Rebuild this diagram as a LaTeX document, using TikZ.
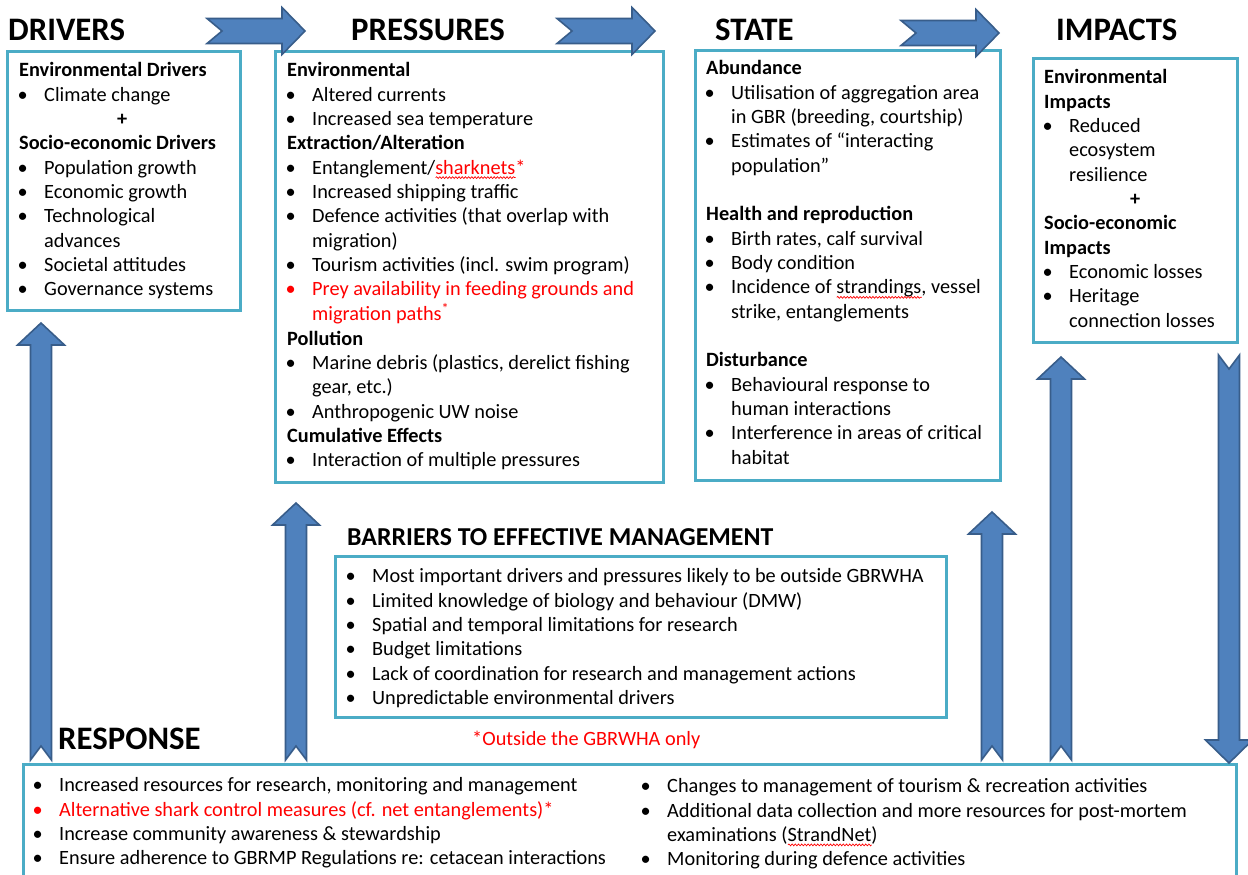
\documentclass[tikz,border=0pt]{standalone}
\usepackage{fontspec}
\setmainfont{Carlito}
\usetikzlibrary{decorations.pathmorphing}
\definecolor{boxteal}{RGB}{75,172,198}
\definecolor{arrowfill}{RGB}{79,129,189}
\definecolor{arrowline}{RGB}{56,93,138}
\definecolor{txtred}{RGB}{255,0,0}
\newlength\wavelen
\newcommand\redwave[1]{\settowidth\wavelen{#1}\makebox[\wavelen][l]{\rlap{#1}\raisebox{-3.5pt}{\tikz[x=1pt,y=1pt,baseline=0pt]{\draw[txtred,line width=0.7pt,decorate,decoration={snake,amplitude=0.9pt,segment length=3.2pt}] (0,0) -- (\wavelen,0);}}}}
\newcommand\bi{\makebox[25pt][l]{\hspace{-1.5pt}\textbullet}}
\newcommand\ri{\makebox[25pt][l]{\hspace{-1.5pt}\textcolor{txtred}{\textbullet}}}
\newcommand\ci{\hspace*{25pt}}
\newcommand\harrow[3]{\draw[blockarrow] (#1,#3-12.5) -- (#2-23,#3-12.5) -- (#2-23,#3-23.5) -- (#2,#3) -- (#2-23,#3+23.5) -- (#2-23,#3+12.5) -- (#1,#3+12.5) -- (#1+15,#3) -- cycle;}
\newcommand\uarrow[3]{\draw[blockarrow] (#1-10.5,#3) -- (#1-10.5,#2+22) -- (#1-23.5,#2+22) -- (#1,#2) -- (#1+23.5,#2+22) -- (#1+10.5,#2+22) -- (#1+10.5,#3) -- (#1,#3-14) -- cycle;}
\newcommand\darrow[3]{\draw[blockarrow] (#1-10.5,#2) -- (#1,#2+14) -- (#1+10.5,#2) -- (#1+10.5,#3-23) -- (#1+23.5,#3-23) -- (#1,#3) -- (#1-23.5,#3-23) -- (#1-10.5,#3-23) -- cycle;}
\begin{document}
\begin{tikzpicture}[x=1pt,y=-1pt,
  box/.style={draw=boxteal,line width=3pt},
  blockarrow/.style={fill=arrowfill,draw=arrowline,line width=1.6pt,line join=miter},
  title/.style={anchor=base west,inner sep=0pt,font=\fontsize{32.8}{33}\selectfont\bfseries},
  subtitle/.style={anchor=base west,inner sep=0pt,font=\fontsize{25.8}{26}\selectfont\bfseries},
  list/.style={anchor=north west,inner sep=0pt,font=\fontsize{20.3}{24.35}\selectfont},
  note/.style={anchor=base west,inner sep=0pt,font=\fontsize{20.3}{24}\selectfont,text=txtred}]
\useasboundingbox (0,0) rectangle (1248,875);
\fill[white] (0,0) rectangle (1248,875);

% boxes
\draw[box] (7.5,51.5) rectangle (240,310);
\draw[box] (275,52) rectangle (663,482);
\draw[box] (695,51) rectangle (1000,480);
\draw[box] (1033,59) rectangle (1237,342);
\draw[box] (335,556) rectangle (946,717);
\draw[box] (23,764) rectangle (1236,895);

% titles
\node[title] (tdrv) at (8,40.5) {DRIVERS};
\node[title] (tprs) at (351,40.5) {PRESSURES};
\node[title] (tsta) at (715,40.5) {STATE};
\node[title] (timp) at (1056,40.5) {IMPACTS};
\node[subtitle] (tbar) at (347,545) {BARRIERS TO EFFECTIVE MANAGEMENT};
\node[title] (tres) at (58,749) {RESPONSE};
\node[note] (outside) at (472,745) {*Outside the GBRWHA only};

% drivers
\node[list] (drv) at (19,59.45) {\begin{tabular}{@{}l@{}}
\textbf{Environmental Drivers}\\
\bi Climate change\\
\hspace*{98pt}\textbf{+}\\
\textbf{Socio-economic Drivers}\\
\bi Population growth\\
\bi Economic growth\\
\bi Technological\\
\ci advances\\
\bi Societal attitudes\\
\bi Governance systems
\end{tabular}};

% pressures
\node[list] (prs) at (287,59.45) {\begin{tabular}{@{}l@{}}
\textbf{Environmental}\\
\bi Altered currents\\
\bi Increased sea temperature\\
\textbf{Extraction/Alteration}\\
\bi Entanglement/\textcolor{txtred}{\redwave{sharknets}*}\\
\bi Increased shipping traffic\\
\bi Defence activities (that overlap with\\
\ci migration)\\
\bi Tourism activities (incl. swim program)\\
\ri \textcolor{txtred}{Prey availability in feeding grounds and}\\
\ci \textcolor{txtred}{migration paths\textsuperscript{*}}\\
\textbf{Pollution}\\
\bi Marine debris (plastics, derelict fishing\\
\ci gear, etc.)\\
\bi Anthropogenic UW noise\\
\textbf{Cumulative Effects}\\
\bi Interaction of multiple pressures
\end{tabular}};

% state
\node[list] (sta) at (706,57.45) {\begin{tabular}{@{}l@{}}
\textbf{Abundance}\\
\bi Utilisation of aggregation area\\
\ci in GBR (breeding, courtship)\\
\bi Estimates of “interacting\\
\ci population”\\
\mbox{}\\
\textbf{Health and reproduction}\\
\bi Birth rates, calf survival\\
\bi Body condition\\
\bi Incidence of \redwave{strandings}, vessel\\
\ci strike, entanglements\\
\mbox{}\\
\textbf{Disturbance}\\
\bi Behavioural response to\\
\ci human interactions\\
\bi Interference in areas of critical\\
\ci habitat
\end{tabular}};

% impacts
\node[list] (imp) at (1044,66.45) {\begin{tabular}{@{}l@{}}
\textbf{Environmental}\\
\textbf{Impacts}\\
\bi Reduced\\
\ci ecosystem\\
\ci resilience\\
\hspace*{86pt}\textbf{+}\\
\textbf{Socio-economic}\\
\textbf{Impacts}\\
\bi Economic losses\\
\bi Heritage\\
\ci connection losses
\end{tabular}};

% barriers
\node[list] (bar) at (347,565.45) {\begin{tabular}{@{}l@{}}
\bi Most important drivers and pressures likely to be outside GBRWHA\\
\bi Limited knowledge of biology and behaviour (DMW)\\
\bi Spatial and temporal limitations for research\\
\bi Budget limitations\\
\bi Lack of coordination for research and management actions\\
\bi Unpredictable environmental drivers
\end{tabular}};

% response
\node[list] (resl) at (34,774.45) {\begin{tabular}{@{}l@{}}
\bi Increased resources for research, monitoring and management\\
\ri \textcolor{txtred}{Alternative shark control measures (cf. net entanglements)*}\\
\bi Increase community awareness \& stewardship\\
\bi Ensure adherence to GBRMP Regulations re: cetacean interactions
\end{tabular}};
\node[list] (resr) at (642,775.45) {\begin{tabular}{@{}l@{}}
\bi Changes to management of tourism \& recreation activities\\
\bi Additional data collection and more resources for post-mortem\\
\ci examinations (\redwave{StrandNet})\\
\bi Monitoring during defence activities
\end{tabular}};

% block arrows
\harrow{207}{305}{31}
\harrow{557}{655}{31}
\harrow{901}{999}{33}
\uarrow{41}{323}{760}
\uarrow{296}{503}{760}
\uarrow{992}{512}{760}
\uarrow{1061}{357}{760}
\darrow{1229}{355}{763}
\end{tikzpicture}
\end{document}
